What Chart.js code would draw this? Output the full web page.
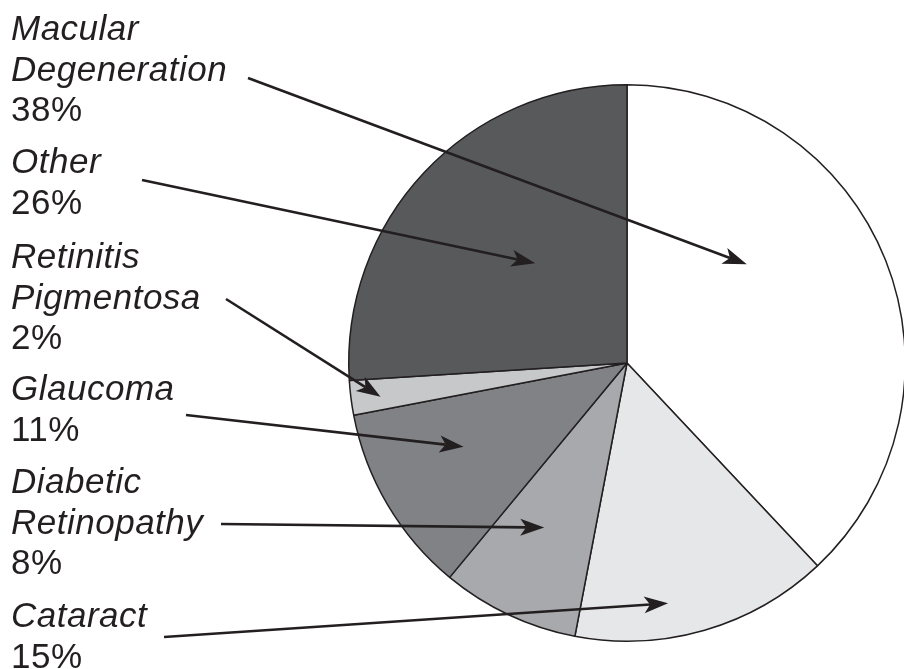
<!DOCTYPE html>
<html>
<head>
<meta charset="utf-8">
<script src="https://cdn.jsdelivr.net/npm/chart.js@4/dist/chart.umd.min.js"></script>
<style>
  html, body { margin: 0; padding: 0; background: #fff; overflow: hidden; }
  canvas { display: block; }
</style>
</head>
<body>
<canvas id="eyeChart" width="906" height="669"></canvas>
<script>
// slices clockwise from 12 o'clock
const categories = ['Macular Degeneration', 'Cataract', 'Diabetic Retinopathy', 'Glaucoma', 'Retinitis Pigmentosa', 'Other'];
const shares = [38, 15, 8, 11, 2, 26];
const sliceColors = ['#ffffff', '#e6e7e8', '#a7a9ac', '#808285', '#c7c8ca', '#58595b'];

// callout text blocks on the left (name lines in italic, then the share)
const labelLines = [
    ['Macular', 'Degeneration'],
    ['Other'],
    ['Retinitis', 'Pigmentosa'],
    ['Glaucoma'],
    ['Diabetic', 'Retinopathy'],
    ['Cataract']
];
const labelIndex = [0, 5, 4, 3, 2, 1];          // which slice each block describes
const labelTop = [40, 173, 268, 400, 493, 627];  // baseline of first line
const arrowFrom = [[248, 78], [142, 180], [226, 299], [186, 415], [221, 524], [164, 637]];
// arrow tip: angle (deg, canvas) and fraction of radius, relative to pie centre
const arrowTo = [[-39.5, 0.558], [-132.6, 0.487], [172.2, 0.894], [152.9, 0.660], [116.7, 0.662], [80.3, 0.876]];

const ink = '#231f20';

const calloutPlugin = {
    id: 'callouts',
    afterDraw(chart) {
        const ctx = chart.ctx;
        const arc = chart.getDatasetMeta(0).data[0];
        const cx = arc.x, cy = arc.y, R = arc.outerRadius;
        ctx.save();
        ctx.fillStyle = ink;
        ctx.strokeStyle = ink;
        ctx.textBaseline = 'alphabetic';
        ctx.letterSpacing = '0.5px';
        labelLines.forEach((lines, i) => {
            let y = labelTop[i];
            ctx.font = 'italic 35px "Liberation Sans", Arial, sans-serif';
            lines.forEach(t => { ctx.fillText(t, 11, y); y += 40.5; });
            ctx.font = '35px "Liberation Sans", Arial, sans-serif';
            ctx.fillText(shares[labelIndex[i]] + '%', 11, y);

            // arrow
            const [x0, y0] = arrowFrom[i];
            const a = arrowTo[i][0] * Math.PI / 180;
            const x1 = cx + Math.cos(a) * R * arrowTo[i][1];
            const y1 = cy + Math.sin(a) * R * arrowTo[i][1];
            const ang = Math.atan2(y1 - y0, x1 - x0);
            const hl = 24, hw = 8.5, notch = 6;
            const bx = x1 - Math.cos(ang) * (hl - notch);
            const by = y1 - Math.sin(ang) * (hl - notch);
            ctx.lineWidth = 2.6;
            ctx.beginPath();
            ctx.moveTo(x0, y0);
            ctx.lineTo(bx, by);
            ctx.stroke();
            const px = -Math.sin(ang), py = Math.cos(ang);
            const rx = x1 - Math.cos(ang) * hl, ry = y1 - Math.sin(ang) * hl;
            ctx.beginPath();
            ctx.moveTo(x1, y1);
            ctx.lineTo(rx + px * hw, ry + py * hw);
            ctx.lineTo(bx, by);
            ctx.lineTo(rx - px * hw, ry - py * hw);
            ctx.closePath();
            ctx.fill();
        });
        ctx.restore();
    }
};

new Chart(document.getElementById('eyeChart').getContext('2d'), {
    type: 'pie',
    data: {
        labels: categories,
        datasets: [{
            data: shares,
            backgroundColor: sliceColors,
            borderColor: ink,
            borderWidth: 1.5
        }]
    },
    options: {
        responsive: false,
        animation: false,
        devicePixelRatio: 1,
        layout: { padding: { left: 348, right: 0, top: 84, bottom: 27 } },
        plugins: {
            legend: { display: false },
            tooltip: { enabled: false }
        }
    },
    plugins: [calloutPlugin]
});
</script>
</body>
</html>
